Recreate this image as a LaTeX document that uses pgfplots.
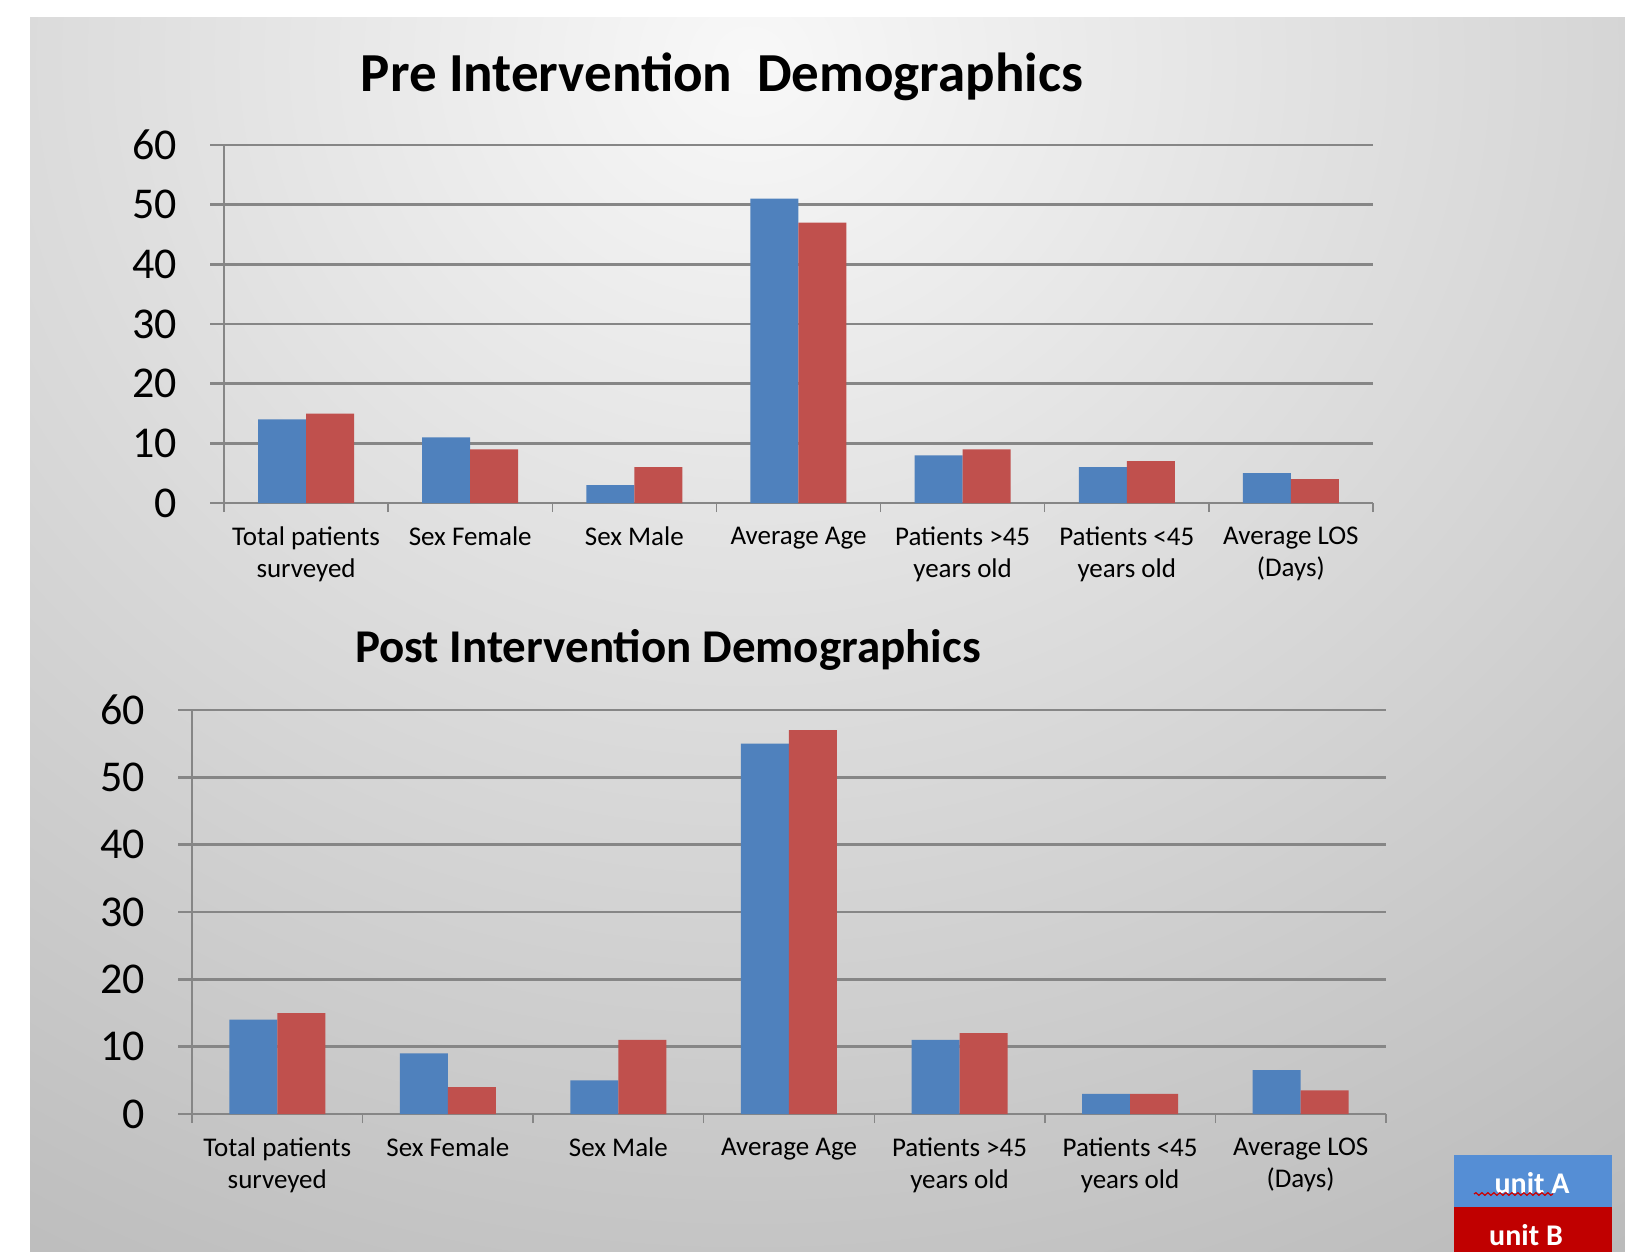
\documentclass[border=0pt]{standalone}
\usepackage{fontspec}
\setmainfont{Carlito}
\usepackage{pgfplots}
\pgfplotsset{compat=1.18}
\usetikzlibrary{decorations.pathmorphing}
\definecolor{barA}{RGB}{79,129,189}
\definecolor{barB}{RGB}{192,80,77}
\definecolor{gridc}{RGB}{134,134,134}
\definecolor{legA}{RGB}{85,142,213}
\definecolor{legB}{RGB}{192,0,0}
\definecolor{bg0}{RGB}{248,248,248}
\definecolor{bg1}{RGB}{224,224,224}
\definecolor{bg2}{RGB}{192,192,192}
\definecolor{bg3}{RGB}{163,163,163}
\definecolor{bg4}{RGB}{155,155,155}
\pgfdeclareradialshading{bgshade}{\pgfpoint{0bp}{0bp}}{color(0bp)=(bg0); color(8bp)=(bg1); color(19bp)=(bg2); color(31bp)=(bg3); color(42bp)=(bg4); color(50bp)=(bg4)}
\pgfplotsset{
  demo/.style={
    scale only axis,
    ybar=0pt, bar width=48pt,
    xmin=-0.5, xmax=6.5, ymin=0, ymax=60,
    ytick={0,10,...,60},
    xtick={0,...,6},
    minor xtick={-0.5,0.5,...,6.5},
    major x tick style={draw=none},
    minor x tick style={draw=gridc, line width=1.5pt},
    minor tick length=9pt,
    axis lines=left,
    axis line style={-, gridc},
    x axis line style={line width=2.5pt},
    y axis line style={line width=1.2pt},
    ymajorgrids,
    grid style={gridc, line width=2.5pt},
    tick align=outside,
    major tick length=14pt,
    major y tick style={gridc, line width=2.5pt},
    /pgf/number format/assume math mode=true,
    yticklabel style={font=\fontsize{44}{44}\selectfont, inner sep=0pt, anchor=east, xshift=-33pt},
    xticklabel style={font=\fontsize{27}{32}\selectfont, align=center, inner sep=0pt, anchor=north, yshift=-10pt},
    xticklabels={{Total patients\\surveyed},{Sex Female},{Sex Male},{Average Age},{Patients >45\\years old},{Patients <45\\years old},{Average LOS\\(Days)}},
  }
}
\begin{document}
\begin{tikzpicture}
\useasboundingbox (0pt,0pt) rectangle (1625pt,-1252pt);
\fill[white] (0pt,0pt) rectangle (1625pt,-1252pt);
\begin{scope}
\clip (30pt,-18pt) rectangle (1625pt,-1252pt);
\shade[shading=bgshade] (750pt,-60pt) ellipse [x radius=1870pt, y radius=1700pt];
\end{scope}
% Titles
\node[anchor=base, font=\fontsize{55}{55}\selectfont\bfseries, inner sep=0pt] at (722pt,-92pt) {Pre Intervention\ \ Demographics};
\node[anchor=base, font=\fontsize{47}{47}\selectfont\bfseries, inner sep=0pt] at (668pt,-662pt) {Post Intervention Demographics};
% Pre chart
\begin{axis}[demo, at={(224pt,-503pt)}, anchor=south west, width=1149pt, height=358pt]
\addplot[fill=barA, draw=none] coordinates {(0,14) (1,11) (2,3) (3,51) (4,8) (5,6) (6,5)};
\addplot[fill=barB, draw=none] coordinates {(0,15) (1,9) (2,6) (3,47) (4,9) (5,7) (6,4)};
\end{axis}
% Post chart
\begin{axis}[demo, at={(192pt,-1114pt)}, anchor=south west, width=1194pt, height=404pt]
\addplot[fill=barA, draw=none] coordinates {(0,14) (1,9) (2,5) (3,55) (4,11) (5,3) (6,6.5)};
\addplot[fill=barB, draw=none] coordinates {(0,15) (1,4) (2,11) (3,57) (4,12) (5,3) (6,3.5)};
\end{axis}
% Legend boxes
\fill[legA] (1454pt,-1155pt) rectangle (1612pt,-1207pt);
\fill[legB] (1454pt,-1207pt) rectangle (1612pt,-1252pt);
\node[white, font=\fontsize{30}{30}\selectfont\bfseries, inner sep=0pt] at (1532pt,-1183pt) {unit A};
\node[white, font=\fontsize{30}{30}\selectfont\bfseries, inner sep=0pt] at (1526pt,-1235pt) {unit B};
\draw[red!80!black, line width=1.2pt, decorate, decoration={snake, segment length=6pt, amplitude=1.3pt}] (1474pt,-1194pt) -- (1553pt,-1194pt);
\end{tikzpicture}
\end{document}
